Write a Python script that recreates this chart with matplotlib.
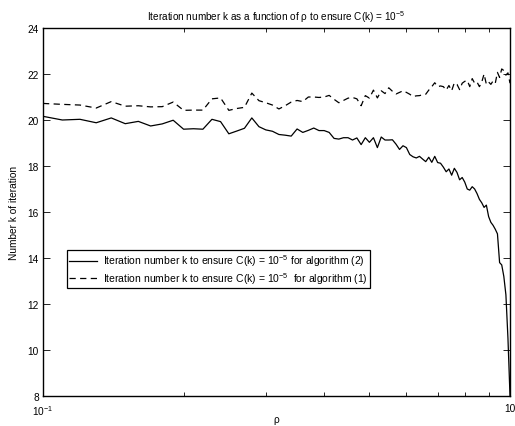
import matplotlib
matplotlib.use("Agg")
import matplotlib.pyplot as plt
import numpy as np

# rho samples (axis runs over one decade, labelled 10^-1 .. 10 as in the original)
rho = np.round(np.arange(1.0, 10.01, 0.1), 1)

# iteration count for algorithm (2) - solid line
k_alg2 = [20.16, 20.00, 20.03, 19.88, 20.09, 19.84, 19.94, 19.74, 19.83, 19.99,
          19.60, 19.62, 19.60, 20.03, 19.93, 19.40, 19.52, 19.64, 20.09, 19.71,
          19.57, 19.51, 19.37, 19.34, 19.30, 19.61, 19.46, 19.55, 19.65, 19.54,
          19.54, 19.46, 19.20, 19.17, 19.23, 19.23, 19.13, 19.22, 18.93, 19.23,
          19.03, 19.23, 18.80, 19.26, 19.13, 19.13, 19.14, 18.95, 18.72, 18.88,
          18.80, 18.50, 18.40, 18.35, 18.42, 18.30, 18.19, 18.38, 18.16, 18.42,
          18.15, 18.12, 17.95, 17.75, 17.87, 17.60, 17.90, 17.72, 17.40, 17.50,
          17.30, 17.00, 16.95, 17.10, 17.00, 16.80, 16.55, 16.40, 16.20, 16.30,
          15.80, 15.55, 15.42, 15.25, 15.05, 13.80, 13.70, 13.20, 12.40, 10.50,
          8.00]

# iteration count for algorithm (1) - dashed line
k_alg1 = [20.72, 20.68, 20.65, 20.52, 20.80, 20.60, 20.62, 20.57, 20.58, 20.78,
          20.42, 20.43, 20.43, 20.92, 20.96, 20.42, 20.50, 20.55, 21.17, 20.84,
          20.75, 20.65, 20.48, 20.62, 20.78, 20.85, 20.80, 21.00, 21.00, 20.98,
          21.00, 21.07, 20.90, 20.75, 20.85, 20.95, 20.98, 20.92, 20.62, 21.06,
          20.95, 21.30, 20.96, 21.27, 21.15, 21.40, 21.25, 21.13, 21.20, 21.27,
          21.20, 21.12, 21.02, 21.05, 21.06, 21.10, 21.12, 21.30, 21.45, 21.62,
          21.45, 21.48, 21.45, 21.30, 21.50, 21.27, 21.62, 21.55, 21.32, 21.60,
          21.68, 21.72, 21.45, 21.80, 21.60, 21.65, 21.45, 21.65, 22.00, 21.55,
          21.65, 21.55, 21.70, 21.60, 22.07, 21.85, 22.22, 22.15, 21.95, 22.05,
          21.60]

y_ticks = [8, 10, 12, 14, 16, 18, 20, 22, 24]
x_tick_labels = ["$10^{-1}$", "10"]

plt.rcParams['font.family'] = ['Liberation Sans', 'DejaVu Sans']
plt.rcParams['mathtext.default'] = 'regular'
plt.rcParams['font.size'] = 7

fig = plt.figure(figsize=(5.15, 4.27), dpi=100)
ax = fig.add_axes([43/515, 30/427, 467/515, 368/427])

ax.plot(rho, k_alg2, color='black', linewidth=0.9, linestyle='-',
        label="Iteration number k to ensure C(k) = $10^{-5}$ for algorithm (2)")
ax.plot(rho, k_alg1, color='black', linewidth=0.9, linestyle=(0, (5, 3.5)),
        label="Iteration number k to ensure C(k) = $10^{-5}$  for algorithm (1)")

ax.set_xscale('log')
ax.set_xlim(1, 10)
ax.set_ylim(8, 24)
ax.set_xticks([1, 10])
ax.set_xticklabels(x_tick_labels)
ax.set_xticks(np.arange(2, 10), minor=True)
ax.xaxis.set_minor_formatter(matplotlib.ticker.NullFormatter())
ax.set_yticks(y_ticks)
ax.tick_params(which='both', direction='in', top=True, right=True, labelsize=7.3, pad=3)
ax.tick_params(axis='x', pad=5)
ax.tick_params(which='major', length=5, width=0.6)
ax.tick_params(which='minor', length=3, width=0.6)
for s in ax.spines.values():
    s.set_linewidth(1.0)

ax.set_title("Iteration number k as a function of ρ to ensure C(k) = $10^{-5}$", fontsize=7.2, pad=6)
ax.set_xlabel("ρ", fontsize=7.3, labelpad=-2)
ax.set_ylabel("Number k of iteration", fontsize=7.3, labelpad=6)

leg = ax.legend(loc='lower left', bbox_to_anchor=(0.051, 0.293), fontsize=7.5,
                frameon=True, fancybox=False, edgecolor='black', framealpha=1,
                handlelength=2.6, handletextpad=0.6, borderpad=0.25,
                labelspacing=0.15, borderaxespad=0)
leg.get_frame().set_linewidth(0.9)

fig.savefig("out.png", dpi=100)
